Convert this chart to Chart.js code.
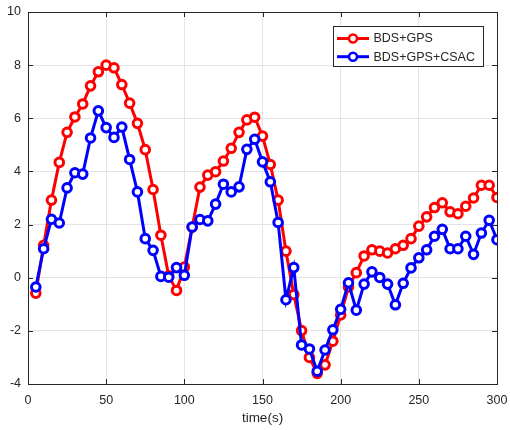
<!DOCTYPE html>
<html>
<head>
<meta charset="utf-8">
<script src="https://cdn.jsdelivr.net/npm/chart.js@4"></script>
<style>
  html, body { margin: 0; padding: 0; background: #fff; }
  #wrap { width: 510px; height: 430px; }
</style>
</head>
<body>
<div id="wrap"><canvas id="chart" width="510" height="430"></canvas></div>
<script>
// Data
const times = [5, 10, 15, 20, 25, 30, 35, 40, 45, 50, 55, 60, 65, 70, 75, 80, 85, 90, 95, 100,
    105, 110, 115, 120, 125, 130, 135, 140, 145, 150, 155, 160, 165, 170, 175, 180, 185, 190, 195, 200,
    205, 210, 215, 220, 225, 230, 235, 240, 245, 250, 255, 260, 265, 270, 275, 280, 285, 290, 295, 300];
const bdsGps = [-0.58, 1.22, 2.92, 4.34, 5.47, 6.05, 6.54, 7.22, 7.75, 8.0, 7.9, 7.27, 6.57, 5.81, 4.82, 3.32, 1.6, 0.07, -0.48, 0.4,
    1.9, 3.41, 3.86, 3.99, 4.39, 4.87, 5.47, 5.94, 6.04, 5.33, 4.26, 2.92, 1.0, -0.63, -1.99, -3.0, -3.6, -3.28, -2.39, -1.4,
    -0.35, 0.19, 0.82, 1.05, 1.0, 0.93, 1.09, 1.22, 1.47, 1.94, 2.29, 2.64, 2.82, 2.48, 2.41, 2.69, 3.0, 3.48, 3.48, 3.02];
const bdsGpsCsac = [-0.35, 1.09, 2.2, 2.06, 3.38, 3.95, 3.9, 5.26, 6.28, 5.65, 5.28, 5.67, 4.45, 3.23, 1.47, 1.03, 0.05, 0.02, 0.38, 0.09,
    1.91, 2.19, 2.14, 2.77, 3.52, 3.23, 3.42, 4.83, 5.21, 4.36, 3.61, 2.08, -0.83, 0.38, -2.53, -2.68, -3.52, -2.72, -1.96, -1.19,
    -0.19, -1.22, -0.24, 0.22, 0.01, -0.24, -1.02, -0.21, 0.37, 0.75, 1.05, 1.56, 1.82, 1.09, 1.09, 1.56, 0.88, 1.68, 2.16, 1.43];
const seriesNames = ["BDS+GPS", "BDS+GPS+CSAC"];
const seriesColors = ["#ff0000", "#0000ff"];
const xTicks = [0, 50, 100, 150, 200, 250, 300];
const yTicks = [-4, -2, 0, 2, 4, 6, 8, 10];
const xTitle = "time(s)";

const axisColor = "#262626";
const fontFamily = "'Liberation Sans', Arial, sans-serif";

function toPoints(values) {
    return times.map((t, i) => ({ x: t, y: values[i] }));
}

function makeDataset(label, values, color, order) {
    return {
        label: label,
        data: toPoints(values),
        borderColor: color,
        backgroundColor: color,
        borderWidth: 3,
        pointRadius: 4.3,
        pointBorderWidth: 3,
        pointBackgroundColor: "#ffffff",
        pointBorderColor: color,
        tension: 0,
        order: order
    };
}

// Box with inward ticks on all four sides, like the original plot
const boxPlugin = {
    id: "box",
    afterDatasetsDraw(chart) {
        const { ctx, chartArea: a, scales } = chart;
        const len = 5;
        ctx.save();
        ctx.strokeStyle = axisColor;
        ctx.lineWidth = 1;
        ctx.beginPath();
        xTicks.forEach(v => {
            const px = Math.round(scales.x.getPixelForValue(v)) + 0.5;
            ctx.moveTo(px, a.bottom); ctx.lineTo(px, a.bottom - len);
            ctx.moveTo(px, a.top); ctx.lineTo(px, a.top + len);
        });
        yTicks.forEach(v => {
            const py = Math.round(scales.y.getPixelForValue(v)) + 0.5;
            ctx.moveTo(a.left, py); ctx.lineTo(a.left + len, py);
            ctx.moveTo(a.right, py); ctx.lineTo(a.right - len, py);
        });
        ctx.stroke();
        ctx.strokeRect(Math.round(a.left) + 0.5, Math.round(a.top) + 0.5,
            Math.round(a.right - a.left), Math.round(a.bottom - a.top));
        ctx.restore();
    }
};

// Legend box inside the plot, top right
const legendPlugin = {
    id: "boxLegend",
    afterDraw(chart) {
        const ctx = chart.ctx;
        const x0 = 333.5, y0 = 26.5, w = 150, h = 40;
        ctx.save();
        ctx.fillStyle = "#ffffff";
        ctx.fillRect(x0, y0, w, h);
        ctx.strokeStyle = axisColor;
        ctx.lineWidth = 1;
        ctx.strokeRect(x0, y0, w, h);
        ctx.font = "12.5px " + fontFamily;
        ctx.textBaseline = "middle";
        chart.data.datasets.forEach((ds, i) => {
            const y = 38.5 + i * 18.2;
            ctx.strokeStyle = ds.borderColor;
            ctx.lineWidth = 3;
            ctx.beginPath();
            ctx.moveTo(337, y);
            ctx.lineTo(369, y);
            ctx.stroke();
            ctx.lineWidth = 2.5;
            ctx.fillStyle = "#ffffff";
            ctx.beginPath();
            ctx.arc(353, y, 4, 0, Math.PI * 2);
            ctx.fill();
            ctx.stroke();
            ctx.fillStyle = axisColor;
            ctx.fillText(ds.label, 373.5, y + 0.5);
        });
        ctx.restore();
    }
};

const ctx = document.getElementById("chart").getContext("2d");
new Chart(ctx, {
    type: "line",
    data: {
        datasets: [
            makeDataset(seriesNames[0], bdsGps, seriesColors[0], 2),
            makeDataset(seriesNames[1], bdsGpsCsac, seriesColors[1], 1)
        ]
    },
    options: {
        responsive: false,
        animation: false,
        layout: { padding: { left: 0, top: 12, right: 13, bottom: 0 } },
        plugins: {
            legend: { display: false },
            tooltip: { enabled: false }
        },
        scales: {
            x: {
                type: "linear",
                min: 0,
                max: 300,
                afterBuildTicks: scale => { scale.ticks = xTicks.map(v => ({ value: v })); },
                afterFit: scale => {
                    scale.height = 46;
                    scale.paddingLeft = 0;
                    scale.paddingRight = 0;
                },
                grid: { color: "#e4e4e4", drawTicks: false },
                border: { display: false },
                ticks: {
                    color: axisColor,
                    padding: 9,
                    maxRotation: 0,
                    font: { family: fontFamily, size: 12.5 }
                },
                title: {
                    display: true,
                    text: xTitle,
                    color: axisColor,
                    padding: { top: 0, bottom: 4 },
                    font: { family: fontFamily, size: 13.5 }
                }
            },
            y: {
                type: "linear",
                min: -4,
                max: 10,
                afterBuildTicks: scale => { scale.ticks = yTicks.map(v => ({ value: v })); },
                afterFit: scale => {
                    scale.width = 28;
                    scale.paddingTop = 0;
                    scale.paddingBottom = 0;
                },
                grid: { color: "#e4e4e4", drawTicks: false },
                border: { display: false },
                ticks: {
                    color: axisColor,
                    padding: 7,
                    font: { family: fontFamily, size: 12.5 }
                }
            }
        }
    },
    plugins: [boxPlugin, legendPlugin]
});
</script>
</body>
</html>
